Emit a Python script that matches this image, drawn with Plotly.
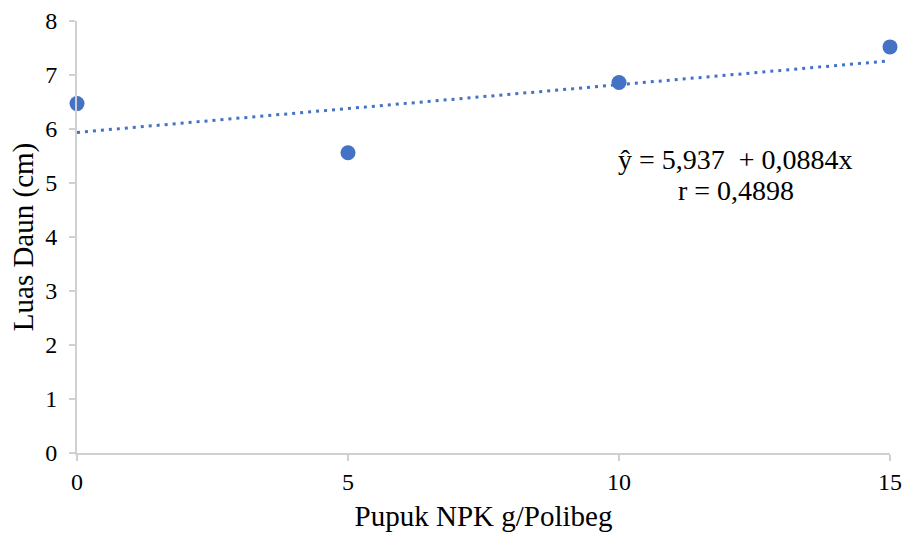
import plotly.graph_objects as go

dosis = [0, 5, 10, 15]
luas_daun = [6.47, 5.56, 6.86, 7.52]
intercept = 5.937
slope = 0.0884
x_ticks = [0, 5, 10, 15]
y_ticks = [0, 1, 2, 3, 4, 5, 6, 7, 8]

trend_x = [0, 15]
trend_y = [intercept + slope * v for v in trend_x]

FONT = "Liberation Serif, Times New Roman, serif"
BLUE = "#4472C4"
AXIS = "#D0D0D0"

fig = go.Figure()
fig.add_trace(go.Scatter(x=trend_x, y=trend_y, mode="lines",
                         line=dict(color=BLUE, width=3, dash="3px,5px"),
                         showlegend=False, hoverinfo="skip"))
fig.add_trace(go.Scatter(x=dosis, y=luas_daun, mode="markers",
                         marker=dict(color=BLUE, size=15),
                         showlegend=False, cliponaxis=False))

fig.add_annotation(x=12.15, y=5.43, xref="x", yref="y", showarrow=False,
                   text="ŷ = 5,937  + 0,0884x",
                   font=dict(family=FONT, size=28, color="black"))
fig.add_annotation(x=12.15, y=4.87, xref="x", yref="y", showarrow=False,
                   text="r = 0,4898",
                   font=dict(family=FONT, size=28, color="black"))

fig.update_layout(
    width=906, height=537,
    margin=dict(l=77, r=16, t=21, b=84, autoexpand=False),
    paper_bgcolor="white", plot_bgcolor="white",
    font=dict(family=FONT, size=24, color="black"),
    xaxis=dict(range=[0, 15], tickvals=x_ticks, showgrid=False, zeroline=False,
               showline=True, linecolor=AXIS, linewidth=2,
               ticks="outside", ticklen=6, tickcolor=AXIS, tickwidth=2,
               title=dict(text="Pupuk NPK g/Polibeg", font=dict(size=29), standoff=12),
               tickfont=dict(size=24)),
    yaxis=dict(range=[0, 8], tickvals=y_ticks, showgrid=False, zeroline=False,
               showline=True, linecolor=AXIS, linewidth=2,
               ticks="outside", ticklen=6, tickcolor=AXIS, tickwidth=2,
               ticklabelstandoff=7,
               title=dict(text="Luas Daun (cm)", font=dict(size=29), standoff=3),
               tickfont=dict(size=24)),
)

fig.write_html(
    "out.html",
    config={"displayModeBar": False},
    post_script="document.body.style.margin='0';"
                "document.documentElement.style.overflow='hidden';",
)
